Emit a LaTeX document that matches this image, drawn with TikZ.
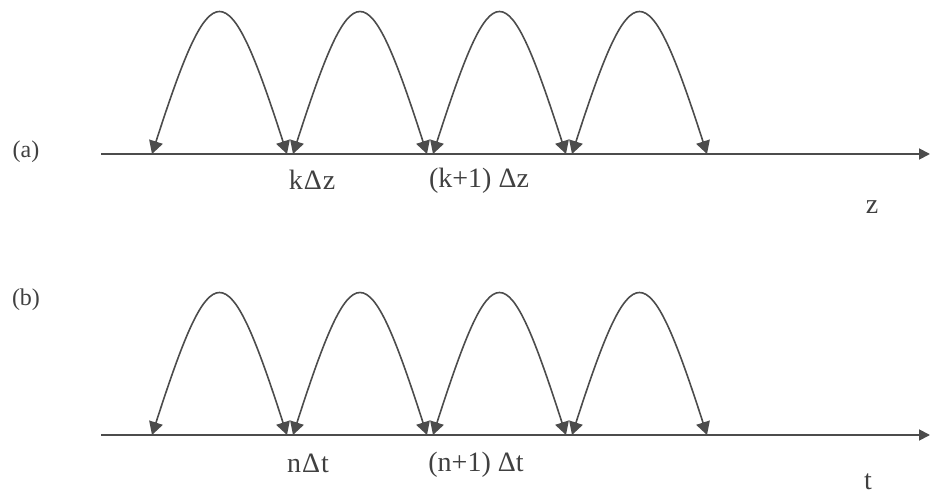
\documentclass[tikz,border=0pt]{standalone}
\usepackage{fontspec}
\setmainfont{Liberation Serif}
\usetikzlibrary{arrows.meta}
\definecolor{ink}{HTML}{4C4C4C}
\definecolor{txt}{HTML}{404040}
\tikzset{
  axisline/.style={draw=ink, line width=1.8pt, -{Triangle[length=11pt,width=11pt]}},
  hop/.style={draw=ink, line width=1.6pt, {Triangle[length=13pt,width=14pt]}-{Triangle[length=13pt,width=14pt]}},
  lbl/.style={text=txt, font=\fontsize{28}{32}\selectfont, inner sep=0pt},
  tag/.style={text=txt, font=\fontsize{24}{28}\selectfont, inner sep=0pt}
}
\begin{document}
\begin{tikzpicture}[x=1pt,y=-1pt]
\useasboundingbox (0,0) rectangle (930,497);
% ---------- (a) ----------
\coordinate (aS) at (101,154);
\coordinate (aE) at (930,154);
\draw[axisline] (aS) -- (aE);
\coordinate (a0) at (152,154);
\coordinate (a1l) at (287,154);
\coordinate (a1r) at (293,154);
\coordinate (a2l) at (427,154);
\coordinate (a2r) at (433,154);
\coordinate (a3l) at (566,154);
\coordinate (a3r) at (572,154);
\coordinate (a4) at (707,154);
\draw[hop] (a0) .. controls +(60,-186) and +(-60,-186) .. (a1l);
\draw[hop] (a1r) .. controls +(60,-186) and +(-60,-186) .. (a2l);
\draw[hop] (a2r) .. controls +(60,-186) and +(-60,-186) .. (a3l);
\draw[hop] (a3r) .. controls +(60,-186) and +(-60,-186) .. (a4);
\node[tag] (la) at (26,152) {(a)};
\node[lbl] (lk) at (312,180) {k\kern1ptΔ\kern1ptz};
\node[lbl] (lk1) at (479,181) {(k+1)\ Δz};
\node[lbl] (lz) at (872,207) {z};
% ---------- (b) ----------
\coordinate (bS) at (101,435);
\coordinate (bE) at (930,435);
\draw[axisline] (bS) -- (bE);
\coordinate (b0) at (152,435);
\coordinate (b1l) at (287,435);
\coordinate (b1r) at (293,435);
\coordinate (b2l) at (427,435);
\coordinate (b2r) at (433,435);
\coordinate (b3l) at (566,435);
\coordinate (b3r) at (572,435);
\coordinate (b4) at (707,435);
\draw[hop] (b0) .. controls +(60,-186) and +(-60,-186) .. (b1l);
\draw[hop] (b1r) .. controls +(60,-186) and +(-60,-186) .. (b2l);
\draw[hop] (b2r) .. controls +(60,-186) and +(-60,-186) .. (b3l);
\draw[hop] (b3r) .. controls +(60,-186) and +(-60,-186) .. (b4);
\node[tag] (lb) at (26,300) {(b)};
\node[lbl] (ln) at (308,463) {n\kern1ptΔ\kern1ptt};
\node[lbl] (ln1) at (476,465) {(n+1)\ Δt};
\node[lbl] (lt) at (868,482) {t};
\end{tikzpicture}
\end{document}
